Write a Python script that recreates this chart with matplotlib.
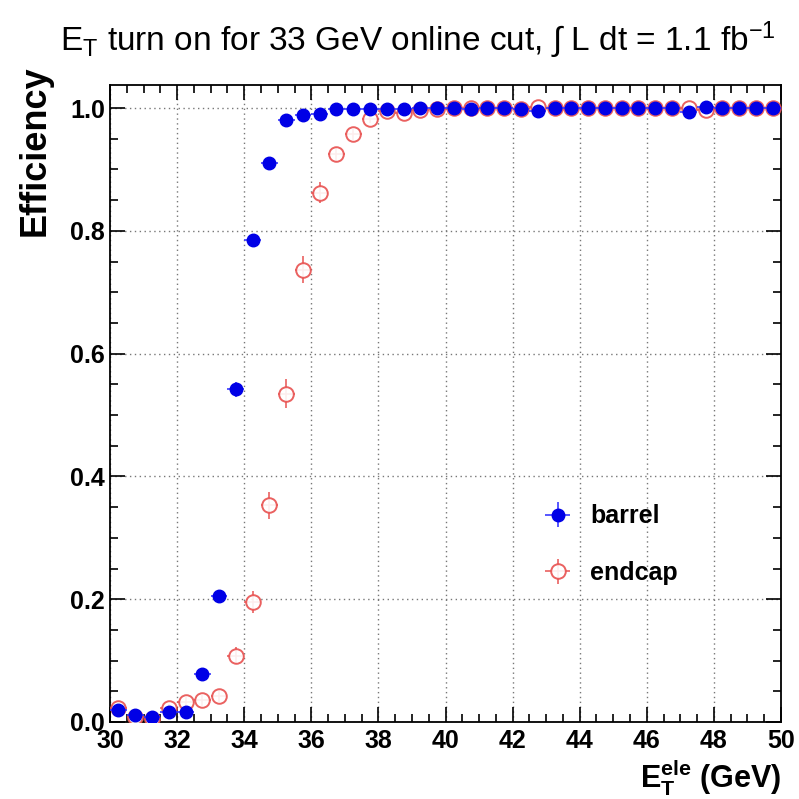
import numpy as np
import matplotlib.pyplot as plt
from matplotlib.ticker import MultipleLocator

plt.rcParams['font.family'] = ['Liberation Sans', 'DejaVu Sans']
plt.rcParams['mathtext.fontset'] = 'custom'
plt.rcParams['mathtext.rm'] = 'Liberation Sans'
plt.rcParams['mathtext.it'] = 'Liberation Sans'
plt.rcParams['mathtext.bf'] = 'Liberation Sans:bold'

# bin centres (GeV)
et = np.arange(30.25, 50.0, 0.5)

barrel = [0.020, 0.012, 0.008, 0.017, 0.017, 0.078, 0.205, 0.542, 0.785, 0.910,
          0.980, 0.988, 0.991, 0.998, 0.999, 0.999, 0.998, 0.999, 1.000, 1.000,
          1.000, 0.999, 1.000, 1.000, 0.998, 0.996, 1.000, 1.000, 1.000, 1.000,
          1.000, 1.000, 1.000, 1.000, 0.993, 1.001, 1.000, 1.000, 1.000, 1.000]
barrel_err = [0.006, 0.004, 0.004, 0.005, 0.005, 0.008, 0.010, 0.012, 0.010, 0.007,
              0.004, 0.003, 0.003, 0.002, 0.001, 0.001, 0.001, 0.001, 0.001, 0.001,
              0.001, 0.001, 0.001, 0.001, 0.001, 0.002, 0.001, 0.001, 0.001, 0.001,
              0.001, 0.001, 0.001, 0.001, 0.003, 0.001, 0.001, 0.001, 0.001, 0.001]

endcap = [0.022, 0.008, 0.005, 0.022, 0.032, 0.035, 0.042, 0.108, 0.195, 0.353,
          0.535, 0.737, 0.862, 0.925, 0.957, 0.982, 0.995, 0.992, 0.997, 0.999,
          1.000, 1.000, 1.000, 1.000, 0.999, 1.002, 1.000, 1.000, 1.000, 1.000,
          1.000, 1.000, 1.000, 1.000, 1.000, 0.997, 1.000, 1.000, 1.000, 1.000]
endcap_err = [0.008, 0.006, 0.005, 0.008, 0.009, 0.009, 0.010, 0.014, 0.018, 0.022,
              0.024, 0.022, 0.017, 0.012, 0.009, 0.006, 0.003, 0.003, 0.002, 0.002,
              0.001, 0.001, 0.001, 0.001, 0.002, 0.002, 0.001, 0.001, 0.001, 0.001,
              0.001, 0.001, 0.001, 0.001, 0.002, 0.002, 0.001, 0.001, 0.001, 0.001]

fig = plt.figure(figsize=(7.99, 7.99), dpi=100)
ax = fig.add_axes([0.1377, 0.0964, 0.8398, 0.7975])

red = '#e8504f'
ax.errorbar(et, endcap, yerr=endcap_err, xerr=0.25, fmt='o', mfc='white', mec=red,
            mew=1.4, ms=10.5, ecolor=red, elinewidth=1.2, alpha=0.9, label='endcap', zorder=3)
ax.errorbar(et, barrel, yerr=barrel_err, xerr=0.25, fmt='o', color='#0000e6',
            ms=9, ecolor='#3a3aff', elinewidth=1.2, label='barrel', zorder=4)

ax.set_xlim(30, 50)
ax.set_ylim(0, 1.038)
ax.xaxis.set_major_locator(MultipleLocator(2))
ax.xaxis.set_minor_locator(MultipleLocator(0.5))
ax.yaxis.set_major_locator(MultipleLocator(0.2))
ax.yaxis.set_minor_locator(MultipleLocator(0.05))
ax.xaxis.set_major_formatter(plt.FuncFormatter(lambda v, p: '%d' % v))
ax.yaxis.set_major_formatter(plt.FuncFormatter(lambda v, p: '%.1f' % v))
ax.tick_params(which='both', direction='in', top=True, right=True, width=1.2)
ax.tick_params(which='major', length=11, labelsize=18)
ax.tick_params(which='minor', length=5.5)
ax.tick_params(axis='x', pad=5)
for lbl in ax.get_xticklabels() + ax.get_yticklabels():
    lbl.set_fontweight('bold')
for s in ax.spines.values():
    s.set_linewidth(1.3)
ax.grid(True, which='major', linestyle=(0, (1, 2.5)), color='#777777', linewidth=1.0)

ax.set_xlabel(r'E$_\mathbf{T}^\mathbf{ele}$ (GeV)', fontsize=22, fontweight='bold',
              loc='right', labelpad=3)
ax.set_ylabel('Efficiency', fontsize=26, fontweight='bold', loc='top', labelpad=6)
ax.yaxis.set_label_coords(-0.085, 1.03)
fig.text(0.075, 0.95, r'E$_\mathrm{T}$ turn on for 33 GeV online cut, $\int$ L dt = 1.1 fb$^{-1}$',
         fontsize=24, ha='left', va='center')

handles, labels = ax.get_legend_handles_labels()
leg = ax.legend(handles[::-1], labels[::-1], loc='lower left', bbox_to_anchor=(0.6, 0.18),
                frameon=False, fontsize=18, handlelength=1.8, labelspacing=1.3,
                handletextpad=0.4)
for t in leg.get_texts():
    t.set_fontweight('bold')

fig.savefig('out.png', dpi=100)
